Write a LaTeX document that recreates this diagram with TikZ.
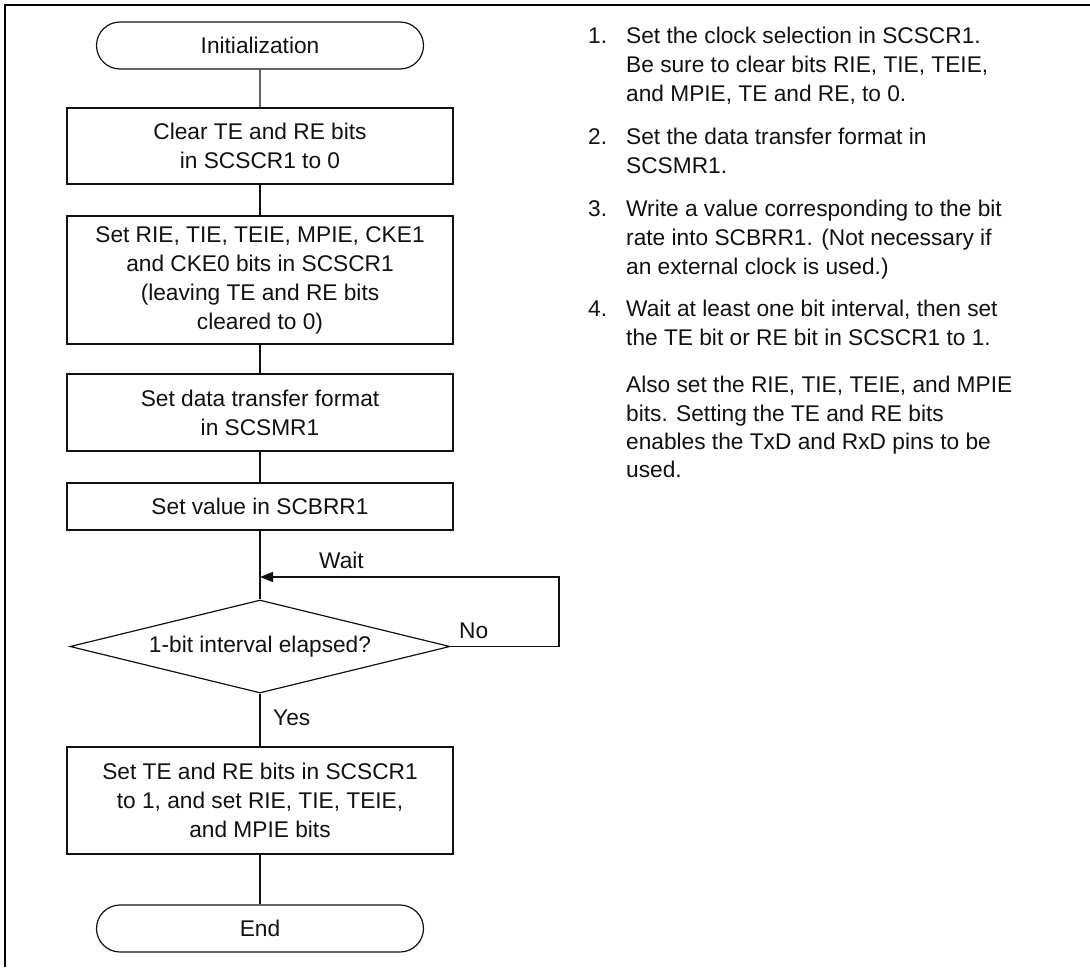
\documentclass[tikz,border=0pt]{standalone}
\usepackage{fontspec}
\setmainfont{Liberation Sans}
\usetikzlibrary{shapes.geometric,shapes.misc,arrows.meta}
\newcommand{\Px}{1pt}
\newcommand{\Rule}{1.2pt}
\newcommand{\BoxW}{386pt}
\newcommand{\Col}{260}
\definecolor{ink}{HTML}{111111}
\definecolor{framek}{HTML}{000000}

\begin{document}
\begin{tikzpicture}[x=\Px,y=-\Px, line join=miter,
  every node/.style={font=\fontsize{22.7}{29}\selectfont, text=ink},
  term/.style={rounded rectangle, draw=ink, line width=\Rule,
    minimum width=327pt, minimum height=47pt, inner sep=0pt},
  stepbox/.style={rectangle, draw=ink, line width=\Rule,
    minimum width=\BoxW, align=center, inner sep=0pt},
  test/.style={diamond, draw=ink, line width=\Rule, aspect=4.09,
    minimum width=380pt, minimum height=93pt, inner sep=0pt},
  flow/.style={draw=ink, line width=\Rule},
  note/.style={anchor=north west, align=left, inner sep=0pt},
  num/.style={anchor=base west, inner sep=0pt}]

  \useasboundingbox (0,0) rectangle (1090,967);

  % ---- the frame: only top and left edges show -----------------------------
  \draw[framek,line width=2pt] (5,967) -- (5,5) -- (1090,5);

  % ---- the flow, top to bottom ---------------------------------------------
  \node[term] (init) at (\Col,45.5) {Initialization};
  \node[stepbox,minimum height=76pt] (clrbits) at (\Col,146)
    {Clear TE and RE bits\\in SCSCR1 to 0};
  \node[stepbox,minimum height=128pt] (setbits) at (\Col,280)
    {Set RIE, TIE, TEIE, MPIE, CKE1\\and CKE0 bits in SCSCR1\\(leaving TE and RE bits\\cleared to 0)};
  \node[stepbox,minimum height=77pt] (fmt) at (\Col,412.5)
    {Set data transfer format\\in SCSMR1};
  \node[stepbox,minimum height=47pt] (brr) at (\Col,506.5)
    {Set value in SCBRR1};
  \node[test] (elapsed) at (\Col,646.5) {1-bit interval elapsed?};
  \node[stepbox,minimum height=107pt] (sette) at (\Col,800.5)
    {Set TE and RE bits in SCSCR1\\to 1, and set RIE, TIE, TEIE,\\and MPIE bits};
  \node[term] (fin) at (\Col,928.5) {End};

  \draw[flow] (init) -- (clrbits);
  \draw[flow] (clrbits) -- (setbits);
  \draw[flow] (setbits) -- (fmt);
  \draw[flow] (fmt) -- (brr);
  \draw[flow] (brr) -- (elapsed);
  \draw[flow] (elapsed) -- (sette);
  \draw[flow] (sette) -- (fin);

  % ---- the wait loop back in above the test --------------------------------
  \coordinate (waitpt) at (\Col,577);
  \coordinate (loopturn) at (559,577);
  \draw[flow,-{Triangle[length=13pt,width=10pt]}]
    (elapsed.east) -| (loopturn) -- (waitpt);

  \node[num] (waitlbl) at (319,568) {Wait};
  \node[num] (nolbl) at (459,638) {No};
  \node[num] (yeslbl) at (273,725) {Yes};

  % ---- the notes on the right ----------------------------------------------
  \node[num] (k1) at (588,43) {1.};
  \node[note] (t1) at (626,26.5)
    {Set the clock selection in SCSCR1.\\Be sure to clear bits RIE, TIE, TEIE,\\and MPIE, TE and RE, to 0.};
  \node[num] (k2) at (588,144) {2.};
  \node[note] (t2) at (626,127.5)
    {Set the data transfer format in\\SCSMR1.};
  \node[num] (k3) at (588,216) {3.};
  \node[note] (t3) at (626,199.5)
    {Write a value corresponding to the bit\\rate into SCBRR1. (Not necessary if\\an external clock is used.)};
  \node[num] (k4) at (588,316) {4.};
  \node[note] (t4) at (626,299.5)
    {Wait at least one bit interval, then set\\the TE bit or RE bit in SCSCR1 to 1.};
  \node[note,font=\fontsize{22.7}{28.4}\selectfont] (t4b) at (626,376)
    {Also set the RIE, TIE, TEIE, and MPIE\\bits. Setting the TE and RE bits\\enables the TxD and RxD pins to be\\used.};

\end{tikzpicture}
\end{document}
